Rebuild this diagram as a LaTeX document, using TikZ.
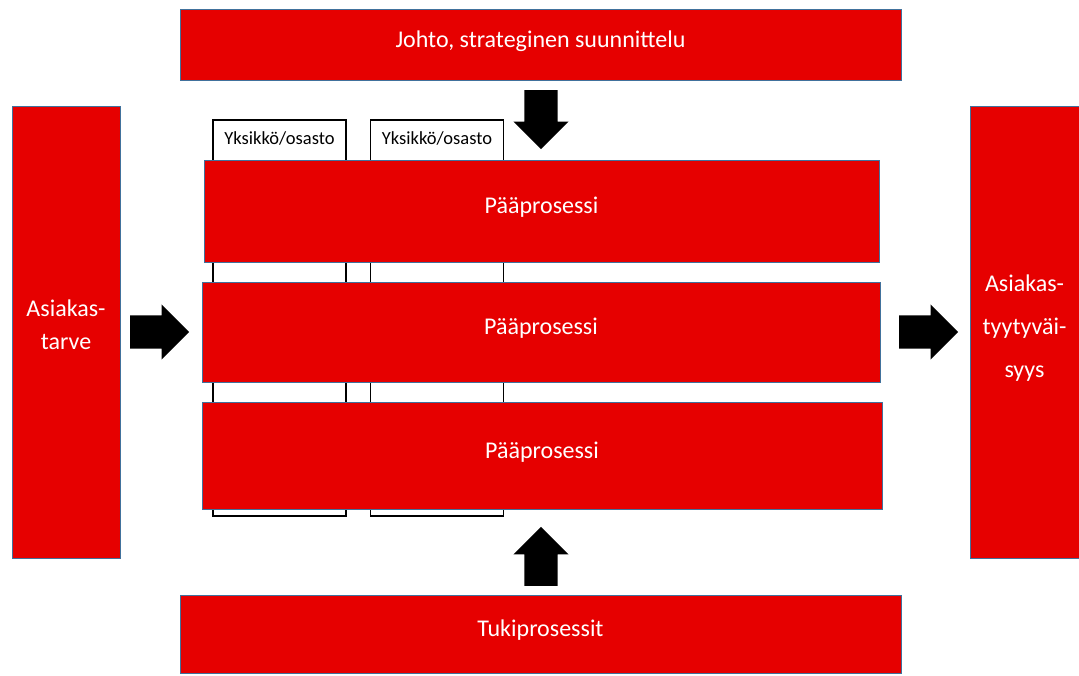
\documentclass[tikz,border=0pt]{standalone}
\usepackage{fontspec}
\setmainfont{Carlito}
\usetikzlibrary{positioning,calc,shapes.arrows}
\definecolor{boxred}{RGB}{230,0,0}
\definecolor{edgeblue}{RGB}{65,113,156}
\begin{document}
\begin{tikzpicture}[x=1pt, y=-1pt, font=\fontsize{24}{33}\selectfont,
    box/.style={rectangle, fill=boxred, draw=edgeblue, line width=1pt, text=white, inner sep=0pt, align=center, text depth=11pt},
    unitbox/.style={rectangle, draw=black, line width=1.4pt, fill=white, minimum width=133pt, minimum height=396pt},
    blockarrow/.style={single arrow, fill=black, inner xsep=0pt, inner ysep=16.5pt, minimum width=55pt, minimum height=59pt, single arrow head extend=11pt, anchor=tip}]
  \useasboundingbox (0,0) rectangle (1079,675);
  % johto ja tuki
  \node[box, minimum width=721pt, minimum height=71pt] (johto) at (540.5,44.5) {Johto, strateginen suunnittelu};
  \node[box, minimum width=721pt, minimum height=78pt] (tuki) at (540.5,634) {Tukiprosessit};
  % asiakas
  \node[box, minimum width=108pt, minimum height=452pt, text depth=14pt] (tarve) at (66,332) {Asiakas-\\tarve};
  \node[box, minimum width=109pt, minimum height=452pt, font=\fontsize{24}{43}\selectfont] (tyyt) at (1024.5,332) {Asiakas-\\tyytyväi-\\syys};
  % yksiköt
  \foreach \name/\x in {yks1/279.5, yks2/437}
    \node[unitbox, label={[anchor=north, inner sep=0pt, yshift=-12pt, font=\fontsize{18.5}{20}\selectfont]north:Yksikkö/osasto}] (\name) at (\x,318) {};
  % pääprosessit
  \node[box, minimum width=675pt, minimum height=102pt] (p1) at (541.5,211) {Pääprosessi};
  \node[box, minimum width=678pt, minimum height=100pt] (p2) at (541,332) {Pääprosessi};
  \node[box, minimum width=680pt, minimum height=107pt] (p3) at (542,455.5) {Pääprosessi};
  % nuolet
  \node[blockarrow, rotate=-90] (alas) at ($(p1.north)+(-0.5,-10)$) {};
  \node[blockarrow, rotate=90] (ylos) at ($(p3.south)+(-1,17)$) {};
  \node[blockarrow] (sisaan) at ($(p2.west)+(-12,0)$) {};
  \node[blockarrow] (ulos) at ($(tyyt.west)+(-11,0)$) {};
\end{tikzpicture}
\end{document}
